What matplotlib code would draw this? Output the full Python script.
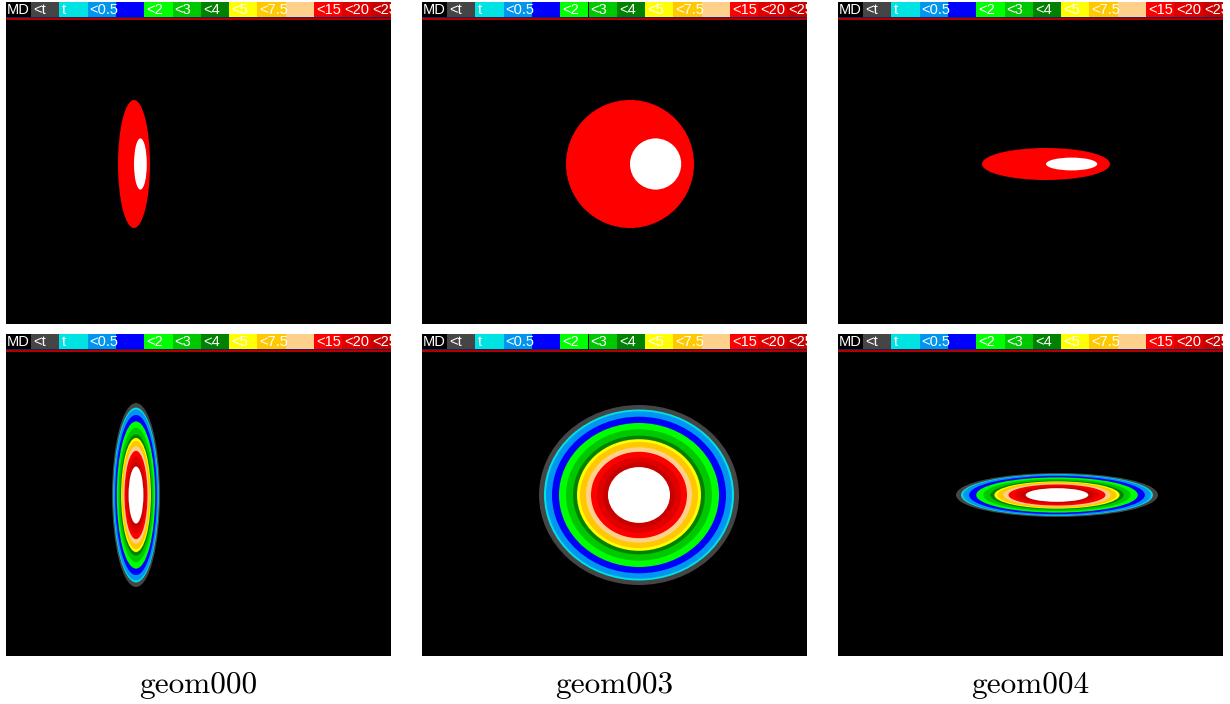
import matplotlib
matplotlib.use("Agg")
import matplotlib.pyplot as plt
from matplotlib.patches import Ellipse, Rectangle

# legend bar (labels + colours of the colour classes)
legend_labels = ["MD", "<t", "t", "<0.5", "", "<2", "<3", "<4", "<5", "<7.5", "", "<15", "<20", "<25"]
legend_colors = ["#000000", "#454545", "#00e3e3", "#0096f0", "#0000ff", "#00ff00", "#00c800",
                 "#008200", "#ffff00", "#ffc800", "#ffd08c", "#ff0000", "#e00000", "#c80000"]

# panel names
names = ["geom000", "geom003", "geom004"]

# top row: one red region with a white core, offset to the right
top_center = [(128, 162), (208, 162), (208, 162)]
top_axes = [(16, 64), (64, 64), (64, 16)]
top_core_shift = 0.4   # fraction of x semi axis
top_core_size = 0.4    # fraction of semi axes

# bottom row: concentric bands, outer -> inner
bot_center = [(130, 161), (217, 161), (219, 161)]
bot_axes = [(24, 92), (100, 90), (101, 22)]
band_frac = [1.0, 0.95, 0.93, 0.87, 0.80, 0.73, 0.66, 0.62, 0.59, 0.53, 0.48, 0.42, 0.36, 0.31]
band_colors = legend_colors[1:] + ["#ffffff"]

W, H = 1230, 704
pw, ph = 385, 322
col_x = [6, 422, 838]
row_y = [2, 334]
cell_w = 28.3
cell_x0 = -3.3

fig = plt.figure(figsize=(W / 100, H / 100), dpi=100)
fig.patch.set_facecolor("white")


def make_panel(x0, y0):
    ax = fig.add_axes([x0 / W, 1 - (y0 + ph) / H, pw / W, ph / H])
    ax.set_facecolor("black")
    ax.set_xlim(0, pw)
    ax.set_ylim(ph, 0)
    ax.set_xticks([])
    ax.set_yticks([])
    for s in ax.spines.values():
        s.set_visible(False)
    # colour legend bar at the top
    for i, (lab, c) in enumerate(zip(legend_labels, legend_colors)):
        left = cell_x0 + i * cell_w
        ax.add_patch(Rectangle((left, 0), cell_w, 15, facecolor=c, edgecolor="none"))
        if lab:
            ax.text(max(left + 2, 0.5), 8, lab, color="white", fontsize=10.5, family="Liberation Sans",
                    ha="left", va="center", clip_on=True)
    ax.add_patch(Rectangle((0, 15), pw, 1, facecolor="#202060", edgecolor="none"))
    ax.add_patch(Rectangle((0, 16), pw, 1.6, facecolor="#b00000", edgecolor="none"))
    return ax


for k in range(3):
    # top row
    ax = make_panel(col_x[k], row_y[0])
    cx, cy = top_center[k]
    a, b = top_axes[k]
    ax.add_patch(Ellipse((cx, cy), 2 * a, 2 * b, facecolor="#ff0000", edgecolor="none"))
    ax.add_patch(Ellipse((cx + top_core_shift * a, cy), 2 * a * top_core_size, 2 * b * top_core_size,
                         facecolor="white", edgecolor="none"))

    # bottom row
    ax = make_panel(col_x[k], row_y[1])
    cx, cy = bot_center[k]
    a, b = bot_axes[k]
    for f, c in zip(band_frac, band_colors):
        ax.add_patch(Ellipse((cx, cy), 2 * a * f, 2 * b * f, facecolor=c, edgecolor="none"))

    fig.text((col_x[k] + pw / 2) / W, 1 - 685 / H, names[k], ha="center", va="center",
             fontsize=22.5, family="cmr10")

fig.savefig("out.png", dpi=100, facecolor="white")
